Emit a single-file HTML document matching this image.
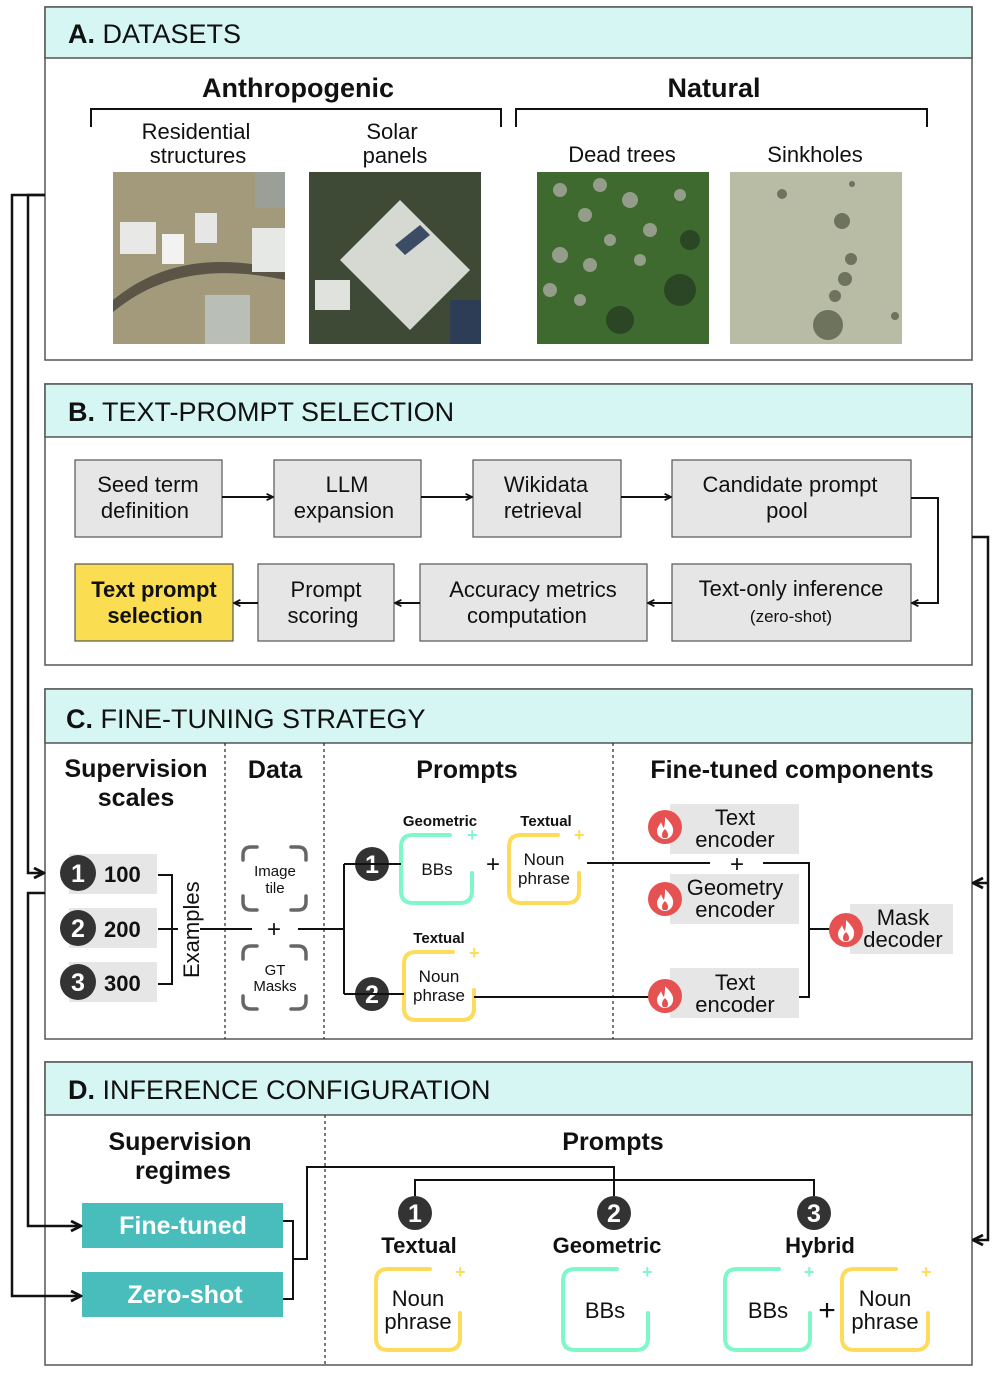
<!DOCTYPE html>
<html><head><meta charset="utf-8"><style>
html,body{margin:0;padding:0;background:#fff}
svg{display:block}
text{font-family:"Liberation Sans",sans-serif;fill:#111}
.h{font-size:27px}
.t{font-size:22px}
.b{font-weight:bold}
.s{font-size:17px}
.w{fill:#fff}
.g{fill:#7ff7c9}
.y{fill:#fcdc5a}
</style></head><body>
<svg width="997" height="1376" viewBox="0 0 997 1376" xmlns="http://www.w3.org/2000/svg">
<defs>
<marker id="ar" viewBox="0 0 10 10" refX="9" refY="5" markerWidth="5" markerHeight="5" orient="auto"><path d="M1,1 L9,5 L1,9" fill="none" stroke="#111" stroke-width="2.2"/></marker>
<marker id="as" viewBox="0 0 10 10" refX="9" refY="5" markerWidth="4" markerHeight="4" orient="auto"><path d="M1,1 L9,5 L1,9" fill="none" stroke="#111" stroke-width="2.2"/></marker>
<g id="fire"><circle r="17" fill="#e65252"/><path d="M0,-10 C6,-4 9,0 8,5 C7,10 3,12 0,12 C-4,12 -8,9 -8,4 C-8,0 -5,-2 -4,-5 C-3,-2 -2,0 -1,1 C0,-3 0,-6 0,-10Z" fill="#fff"/><path d="M0,2 C3,5 4,8 2,11 L-2,11 C-4,8 -3,5 0,2Z" fill="#e65252"/></g>
</defs>

<g stroke="#555" stroke-width="1.5" fill="none">
<rect x="45" y="7" width="927" height="353"/>
<rect x="45" y="384" width="927" height="281"/>
<rect x="45" y="689" width="927" height="350"/>
<rect x="45" y="1062" width="927" height="303"/>
</g>
<g fill="#d6f6f3" stroke="#555" stroke-width="1.5">
<rect x="45" y="7" width="927" height="51"/>
<rect x="45" y="384" width="927" height="53"/>
<rect x="45" y="689" width="927" height="54"/>
<rect x="45" y="1062" width="927" height="53"/>
</g>
<text class="h" x="68" y="43"><tspan class="b">A.</tspan> DATASETS</text>
<text class="h" x="68" y="421"><tspan class="b">B.</tspan> TEXT-PROMPT SELECTION</text>
<text class="h" x="66" y="728"><tspan class="b">C.</tspan> FINE-TUNING STRATEGY</text>
<text class="h" x="68" y="1099"><tspan class="b">D.</tspan> INFERENCE CONFIGURATION</text>

<!-- A -->
<text class="h b" x="298" y="97" text-anchor="middle">Anthropogenic</text>
<text class="h b" x="714" y="97" text-anchor="middle">Natural</text>
<path d="M91,127 V109 H501 V127 M516,127 V109 H927 V127" stroke="#111" stroke-width="2" fill="none"/>
<text class="t" x="196" y="139" text-anchor="middle">Residential</text>
<text class="t" x="198" y="163" text-anchor="middle">structures</text>
<text class="t" x="392" y="139" text-anchor="middle">Solar</text>
<text class="t" x="395" y="163" text-anchor="middle">panels</text>
<text class="t" x="622" y="162" text-anchor="middle">Dead trees</text>
<text class="t" x="815" y="162" text-anchor="middle">Sinkholes</text>
<rect x="113" y="172" width="172" height="172" fill="#a39a7c"/>
<path d="M113,300 C150,270 200,250 285,270 L285,280 C200,262 150,282 113,312Z" fill="#5a5546"/>
<rect x="120" y="222" width="36" height="32" fill="#e8e8e6"/><rect x="162" y="234" width="22" height="30" fill="#f2f2f0"/>
<rect x="195" y="213" width="22" height="30" fill="#e6e6e6"/><rect x="255" y="172" width="30" height="36" fill="#9aa097"/>
<rect x="252" y="228" width="33" height="44" fill="#e6e8e6"/><rect x="205" y="295" width="45" height="49" fill="#b9bfb6"/>
<rect x="309" y="172" width="172" height="172" fill="#3e4a35"/>
<path d="M340,260 L400,200 L470,270 L410,330Z" fill="#d6d9d2"/>
<rect x="315" y="280" width="35" height="30" fill="#e0e2dd"/><rect x="450" y="300" width="31" height="44" fill="#2c3d55"/>
<path d="M395,245 L420,225 L430,235 L405,255Z" fill="#3c4c64"/>
<rect x="537" y="172" width="172" height="172" fill="#3f6a2f"/>
<g fill="#a3a79a" opacity="0.85"><circle cx="560" cy="190" r="7"/><circle cx="600" cy="185" r="7"/><circle cx="630" cy="200" r="8"/><circle cx="585" cy="215" r="7"/><circle cx="650" cy="230" r="7"/><circle cx="610" cy="240" r="6"/><circle cx="560" cy="255" r="8"/><circle cx="590" cy="265" r="7"/><circle cx="640" cy="260" r="6"/><circle cx="550" cy="290" r="7"/><circle cx="580" cy="300" r="6"/><circle cx="680" cy="195" r="6"/></g>
<g fill="#22381f" opacity="0.7"><circle cx="680" cy="290" r="16"/><circle cx="620" cy="320" r="14"/><circle cx="690" cy="240" r="10"/></g>
<rect x="730" y="172" width="172" height="172" fill="#b9bca4"/>
<g fill="#6d735d"><circle cx="782" cy="194" r="5"/><circle cx="842" cy="221" r="8"/><circle cx="851" cy="259" r="6"/><circle cx="845" cy="279" r="7"/><circle cx="835" cy="296" r="6"/><circle cx="828" cy="325" r="15"/><circle cx="895" cy="316" r="4"/><circle cx="852" cy="184" r="3"/></g>

<!-- B -->
<g stroke="#555" stroke-width="1.2" fill="#e6e6e6">
<rect x="75" y="460" width="147" height="77"/>
<rect x="274" y="460" width="147" height="77"/>
<rect x="473" y="460" width="148" height="77"/>
<rect x="672" y="460" width="239" height="77"/>
<rect x="75" y="564" width="158" height="77" fill="#fbdd52"/>
<rect x="258" y="564" width="136" height="77"/>
<rect x="420" y="564" width="227" height="77"/>
<rect x="672" y="564" width="239" height="77"/>
</g>
<text class="t" text-anchor="middle"><tspan x="148" y="492">Seed term</tspan><tspan x="148" y="518">definition</tspan>
<tspan x="347" y="492">LLM</tspan><tspan x="347" y="518">expansion</tspan>
<tspan x="546" y="492">Wikidata</tspan><tspan x="546" y="518">retrieval</tspan>
<tspan x="790" y="492">Candidate prompt</tspan><tspan x="790" y="518">pool</tspan>
<tspan x="326" y="597">Prompt</tspan><tspan x="326" y="623">scoring</tspan>
<tspan x="533" y="597">Accuracy metrics</tspan><tspan x="530" y="623">computation</tspan>
<tspan x="791" y="596">Text-only inference</tspan></text>
<text class="s" x="791" y="622" text-anchor="middle">(zero-shot)</text>
<text class="t b" text-anchor="middle"><tspan x="154" y="597">Text prompt</tspan><tspan x="155" y="623">selection</tspan></text>
<g stroke="#111" stroke-width="2" fill="none" marker-end="url(#as)">
<path d="M222,497 H273"/><path d="M421,497 H472"/><path d="M621,497 H671"/>
<path d="M911,498 H938 V603 H912"/>
<path d="M672,603 H648"/><path d="M420,603 H395"/><path d="M258,603 H234"/>
</g>

<!-- C -->
<g stroke="#333" stroke-width="1.3" stroke-dasharray="3,3"><path d="M225,743 V1039 M324,743 V1039 M613,743 V1039"/></g>
<text class="t b" style="font-size:25px" text-anchor="middle"><tspan x="136" y="777">Supervision</tspan><tspan x="136" y="806">scales</tspan><tspan x="275" y="778">Data</tspan><tspan x="467" y="778">Prompts</tspan><tspan x="792" y="778">Fine-tuned components</tspan></text>
<g fill="#e6e6e6"><rect x="69" y="854" width="88" height="40"/><rect x="69" y="908" width="88" height="40"/><rect x="69" y="962" width="88" height="40"/></g>
<g fill="#333"><circle cx="78" cy="873" r="18"/><circle cx="78" cy="928" r="18"/><circle cx="78" cy="982" r="18"/>
<circle cx="372" cy="864" r="17"/><circle cx="372" cy="994" r="17"/>
<circle cx="415" cy="1213" r="17"/><circle cx="614" cy="1213" r="17"/><circle cx="814" cy="1213" r="17"/></g>
<g font-weight="bold" font-size="25" text-anchor="middle"><text class="w" x="78" y="882">1</text><text class="w" x="78" y="937">2</text><text class="w" x="78" y="991">3</text><text class="w" x="372" y="873">1</text><text class="w" x="372" y="1003">2</text><text class="w" x="415" y="1222">1</text><text class="w" x="614" y="1222">2</text><text class="w" x="814" y="1222">3</text></g>
<text class="t b" x="104" y="882">100</text><text class="t b" x="104" y="937">200</text><text class="t b" x="104" y="991">300</text>
<path d="M158,875 H172 V984 H158 M158,929 H178 M200,929 H252 M298,929 H344 M344,864 V994 M344,864 H356 M344,994 H356" stroke="#111" stroke-width="2" fill="none"/>
<text class="t" transform="translate(199,978) rotate(-90)">Examples</text>
<text x="274" y="937" text-anchor="middle" font-size="24">+</text>
<g stroke="#666" stroke-width="3.5" fill="none" stroke-linecap="round">
<path d="M243,860 V855 Q243,847 251,847 H257 M291,847 H298 Q306,847 306,855 V860 M306,896 V902 Q306,910 298,910 H291 M257,910 H251 Q243,910 243,902 V896"/>
<path d="M243,959 V954 Q243,946 251,946 H257 M291,946 H298 Q306,946 306,954 V959 M306,996 V1001 Q306,1009 298,1009 H291 M257,1009 H251 Q243,1009 243,1001 V996"/>
</g>
<text font-size="15" text-anchor="middle"><tspan x="275" y="876">Image</tspan><tspan x="275" y="893">tile</tspan><tspan x="275" y="975">GT</tspan><tspan x="275" y="991">Masks</tspan></text>
<g fill="none" stroke-width="4" stroke-linecap="round">
<path stroke="#7ff7c9" d="M450,835 H413 Q401,835 401,847 V891 Q401,903 413,903 H460 Q472,903 472,891 V873"/>
<path stroke="#fcdc5a" d="M558,835 H521 Q509,835 509,847 V891 Q509,903 521,903 H567 Q579,903 579,891 V873"/>
<path stroke="#fcdc5a" d="M453,952 H416 Q404,952 404,964 V1008 Q404,1020 416,1020 H462 Q474,1020 474,1008 V990"/>
<path stroke="#fcdc5a" d="M430,1269 H388 Q376,1269 376,1281 V1338 Q376,1350 388,1350 H448 Q460,1350 460,1338 V1313"/>
<path stroke="#7ff7c9" d="M617,1269 H575 Q563,1269 563,1281 V1338 Q563,1350 575,1350 H636 Q648,1350 648,1338 V1313"/>
<path stroke="#7ff7c9" d="M779,1269 H737 Q725,1269 725,1281 V1338 Q725,1350 737,1350 H798 Q810,1350 810,1338 V1313"/>
<path stroke="#fcdc5a" d="M896,1269 H854 Q842,1269 842,1281 V1338 Q842,1350 854,1350 H916 Q928,1350 928,1338 V1313"/>
</g>
<g font-weight="bold" font-size="18"><text class="g" x="467" y="841">+</text><text class="y" x="574" y="841">+</text><text class="y" x="469" y="959">+</text><text class="y" x="455" y="1278">+</text><text class="g" x="642" y="1278">+</text><text class="g" x="804" y="1278">+</text><text class="y" x="921" y="1278">+</text></g>
<text class="b" font-size="15" text-anchor="middle"><tspan x="440" y="826">Geometric</tspan><tspan x="546" y="826">Textual</tspan><tspan x="439" y="943">Textual</tspan></text>
<text font-size="17" text-anchor="middle"><tspan x="437" y="875">BBs</tspan><tspan x="544" y="865">Noun</tspan><tspan x="544" y="884">phrase</tspan><tspan x="439" y="982">Noun</tspan><tspan x="439" y="1001">phrase</tspan></text>
<text x="493" y="872" font-size="24" text-anchor="middle">+</text>
<path d="M356,864 H401 M356,994 H404 M474,997 H650 M587,863 H710 M763,863 H809 V997 H799 M809,929 H830" stroke="#111" stroke-width="2" fill="none"/>
<text x="737" y="872" font-size="24" text-anchor="middle">+</text>
<g fill="#e6e6e6"><rect x="670" y="804" width="129" height="50"/><rect x="670" y="874" width="129" height="50"/><rect x="670" y="968" width="129" height="50"/><rect x="850" y="904" width="103" height="50"/></g>
<use href="#fire" x="665" y="827"/><use href="#fire" x="665" y="899"/><use href="#fire" x="665" y="996"/><use href="#fire" x="846" y="930"/>
<text class="t" text-anchor="middle"><tspan x="735" y="825">Text</tspan><tspan x="735" y="847">encoder</tspan><tspan x="735" y="895">Geometry</tspan><tspan x="735" y="917">encoder</tspan><tspan x="735" y="990">Text</tspan><tspan x="735" y="1012">encoder</tspan><tspan x="903" y="925">Mask</tspan><tspan x="903" y="947">decoder</tspan></text>

<!-- D -->
<path d="M325,1115 V1365" stroke="#333" stroke-width="1.3" stroke-dasharray="3,3"/>
<text class="t b" style="font-size:25px" text-anchor="middle"><tspan x="180" y="1150">Supervision</tspan><tspan x="183" y="1179">regimes</tspan><tspan x="613" y="1150">Prompts</tspan></text>
<rect x="82" y="1203" width="201" height="45" fill="#48bdbc"/><rect x="82" y="1272" width="201" height="45" fill="#48bdbc"/>
<text class="t b w" text-anchor="middle" style="font-size:25px"><tspan class="w" x="183" y="1234">Fine-tuned</tspan><tspan class="w" x="185" y="1303">Zero-shot</tspan></text>
<path d="M283,1221 H293 V1299 H283 M293,1259 H307 V1167 H614 V1196 M415,1196 V1180 H814 V1196" stroke="#111" stroke-width="2" fill="none"/>
<text class="t b" text-anchor="middle"><tspan x="419" y="1253">Textual</tspan><tspan x="607" y="1253">Geometric</tspan><tspan x="820" y="1253">Hybrid</tspan></text>
<text class="t" text-anchor="middle"><tspan x="418" y="1306">Noun</tspan><tspan x="418" y="1329">phrase</tspan><tspan x="605" y="1318">BBs</tspan><tspan x="768" y="1318">BBs</tspan><tspan x="885" y="1306">Noun</tspan><tspan x="885" y="1329">phrase</tspan></text>
<text x="827" y="1320" font-size="30" text-anchor="middle">+</text>

<g stroke="#111" stroke-width="2.5" fill="none" marker-end="url(#ar)">
<path d="M45,195 H12 V1296 H81"/>
<path d="M45,195 H28 V873 H44"/>
<path d="M45,893 H28 V1226 H81"/>
<path d="M972,537 H988 V1240 H973"/>
<path d="M988,883 H973"/>
</g>
</svg>
</body></html>
